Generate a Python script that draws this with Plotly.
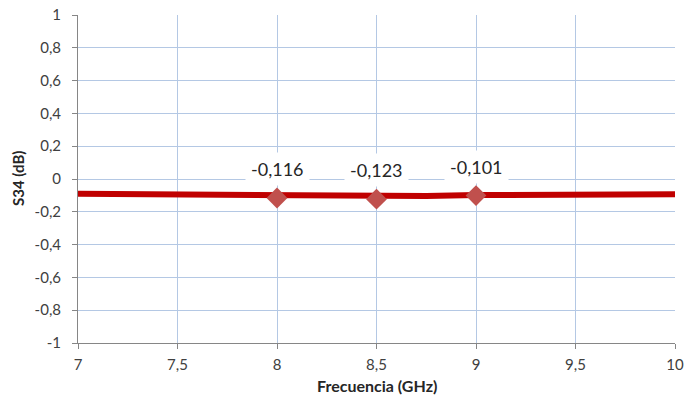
import plotly.graph_objects as go

# Frequency sweep (GHz) and S34 (dB)
freq = [7.0, 7.25, 7.5, 7.75, 8.0, 8.25, 8.5, 8.75, 9.0, 9.25, 9.5, 9.75, 10.0]
s34 = [-0.090, -0.092, -0.095, -0.098, -0.104, -0.108, -0.110, -0.104, -0.098, -0.095, -0.094, -0.093, -0.093]

# Marked points
mark_freq = [8.0, 8.5, 9.0]
mark_val = [-0.116, -0.123, -0.101]
mark_text = ["-0,116", "-0,123", "-0,101"]

# Tick labels
x_ticks = [7, 7.5, 8, 8.5, 9, 9.5, 10]
x_ticktext = ["7", "7,5", "8", "8,5", "9", "9,5", "10"]
y_ticks = [1, 0.8, 0.6, 0.4, 0.2, 0, -0.2, -0.4, -0.6, -0.8, -1]
y_ticktext = ["1", "0,8", "0,6", "0,4", "0,2", "0", "-0,2", "-0,4", "-0,6", "-0,8", "-1"]

x_title = "<b>Frecuencia (GHz)</b>"
y_title = "<b>S34 (dB)</b>"

FONT = "Lato, Calibri, Arial, sans-serif"
GRID = "#B4C8E4"
AXIS = "#868686"

fig = go.Figure()
fig.add_trace(go.Scatter(
    x=freq, y=s34, mode="lines",
    line=dict(color="#C00000", width=6),
    hoverinfo="skip", showlegend=False,
))
fig.add_trace(go.Scatter(
    x=mark_freq, y=mark_val, mode="markers",
    marker=dict(symbol="diamond", size=16, color="#C0504D"),
    showlegend=False,
))

for xf, yv, t in zip(mark_freq, mark_val, mark_text):
    fig.add_annotation(
        x=xf, y=yv, text=t, showarrow=False,
        xanchor="center", yanchor="middle", yshift=29,
        bgcolor="white", borderpad=5,
        font=dict(family=FONT, size=18, color="#262626"),
    )

# Axis titles
fig.add_annotation(
    xref="paper", yref="paper", x=0.5, y=0, yshift=-42,
    xanchor="center", yanchor="middle", showarrow=False,
    text=x_title, font=dict(family=FONT, size=16, color="#262626"),
)
fig.add_annotation(
    xref="paper", yref="paper", x=0, y=0.5, xshift=-60,
    xanchor="center", yanchor="middle", showarrow=False, textangle=-90,
    text=y_title, font=dict(family=FONT, size=15, color="#262626"),
)

fig.update_layout(
    width=684, height=403,
    margin=dict(l=78, r=9, t=15, b=60),
    paper_bgcolor="white", plot_bgcolor="white",
    font=dict(family=FONT, size=15, color="#404040"),
)
fig.update_xaxes(
    range=[7, 10], tickvals=x_ticks, ticktext=x_ticktext,
    showgrid=True, gridcolor=GRID, gridwidth=1,
    showline=True, linecolor=AXIS, linewidth=1,
    ticks="outside", ticklen=5, tickcolor=AXIS,
    ticklabelstandoff=3,
    zeroline=False, automargin=False,
)
fig.update_yaxes(
    range=[-1, 1], tickvals=y_ticks, ticktext=y_ticktext,
    showgrid=True, gridcolor=GRID, gridwidth=1,
    showline=True, linecolor=AXIS, linewidth=1,
    ticks="outside", ticklen=5, tickcolor=AXIS,
    ticklabelstandoff=8,
    zeroline=False, automargin=False,
)

fig.write_html("out.html", config={"displayModeBar": False},
               post_script="document.body.style.margin='0';")
